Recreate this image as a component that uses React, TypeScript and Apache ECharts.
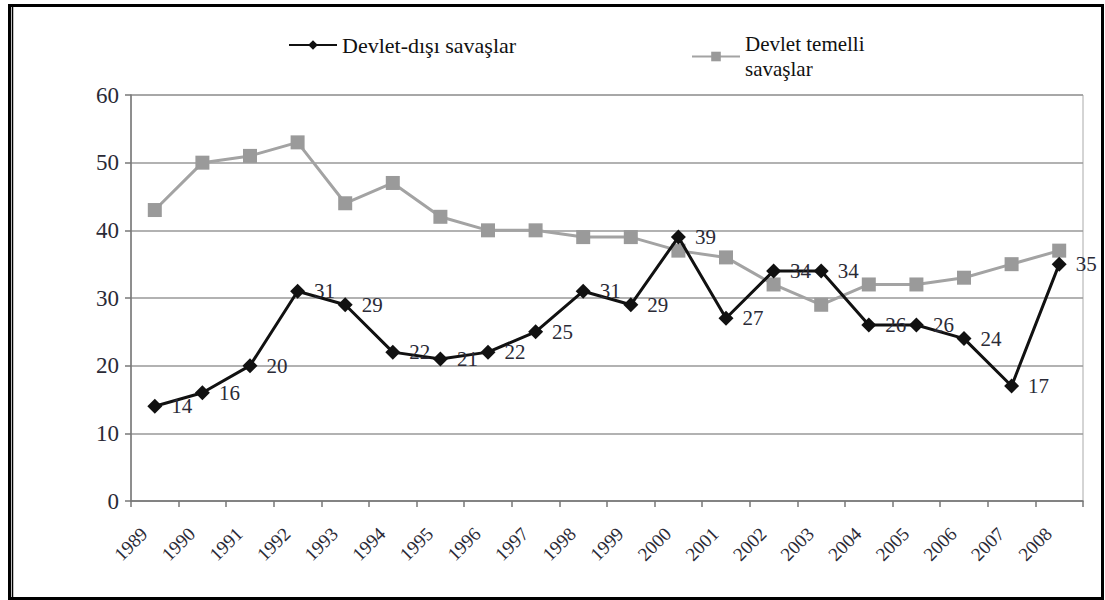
import React, { useEffect, useRef } from "react";
import * as echarts from "echarts";

const years = ["1989","1990","1991","1992","1993","1994","1995","1996","1997","1998","1999","2000","2001","2002","2003","2004","2005","2006","2007","2008"];
const nonState = [14,16,20,31,29,22,21,22,25,31,29,39,27,34,34,26,26,24,17,35];
const stateBased = [43,50,51,53,44,47,42,40,40,39,39,37,36,32,29,32,32,33,35,37];
const yTicks = { min: 0, max: 60, interval: 10 };

const FONT = "Liberation Serif";
const TXT = "#2a2a36";

export default function App() {
  const ref = useRef<HTMLDivElement>(null);
  useEffect(() => {
    document.body.style.margin = "0";
    const chart = echarts.init(ref.current!, null, { renderer: "svg" });
    chart.setOption({
      animation: false,
      backgroundColor: "#fff",
      textStyle: { fontFamily: FONT },
      graphic: [
        { type: "rect", shape: { x: 9.5, y: 5.5, width: 1093, height: 593 }, style: { fill: "none", stroke: "#000", lineWidth: 3 }, z: 100 },
        { type: "line", shape: { x1: 12.5, y1: 7, x2: 12.5, y2: 597 }, style: { stroke: "#000", lineWidth: 1.5 }, z: 100 },
      ],
      legend: [
        {
          data: ["Devlet-dışı savaşlar"],
          left: 283, top: 29,
          itemWidth: 48, itemHeight: 12,
          textStyle: { fontFamily: FONT, fontSize: 22, color: "#111" },
        },
        {
          data: ["Devlet temelli savaşlar"],
          left: 686, top: 14,
          itemWidth: 48, itemHeight: 12,
          formatter: () => "Devlet temelli\nsavaşlar",
          textStyle: { fontFamily: FONT, fontSize: 21, color: "#111", lineHeight: 25, padding: [25, 0, 0, 0] },
        },
      ],
      grid: { left: 131, right: 22, top: 95, bottom: 99, show: true, borderColor: "#aaa", borderWidth: 1 },
      xAxis: {
        type: "category",
        data: years,
        boundaryGap: true,
        axisLine: { lineStyle: { color: "#777", width: 1.5 } },
        axisTick: { show: true, length: 6, alignWithLabel: false, lineStyle: { color: "#777", width: 1.5 } },
        axisLabel: { rotate: 45, fontFamily: FONT, fontSize: 19, color: TXT, margin: 19, padding: [0, 15, 13, 0], interval: 0 },
      },
      yAxis: {
        type: "value",
        min: yTicks.min, max: yTicks.max, interval: yTicks.interval,
        axisLine: { show: true, lineStyle: { color: "#777", width: 1.5 } },
        axisTick: { show: true, length: 6, lineStyle: { color: "#777", width: 1.5 } },
        axisLabel: { fontFamily: FONT, fontSize: 23, color: TXT, margin: 12 },
        splitLine: { lineStyle: { color: "#999", width: 1.5 } },
      },
      series: [
        {
          name: "Devlet temelli savaşlar",
          type: "line",
          data: stateBased,
          symbol: "rect",
          symbolSize: 14,
          lineStyle: { color: "#a3a3a3", width: 3 },
          itemStyle: { color: "#9a9a9a" },
          z: 2,
        },
        {
          name: "Devlet-dışı savaşlar",
          type: "line",
          data: nonState,
          symbol: "diamond",
          symbolSize: 15,
          lineStyle: { color: "#111", width: 3 },
          itemStyle: { color: "#111" },
          label: { show: true, position: "right", distance: 9, fontFamily: FONT, fontSize: 21, color: TXT },
          z: 3,
        },
      ],
    });
    return () => chart.dispose();
  }, []);
  return <div ref={ref} style={{ position: "fixed", left: 0, top: 0, width: 1105, height: 600 }} />;
}
